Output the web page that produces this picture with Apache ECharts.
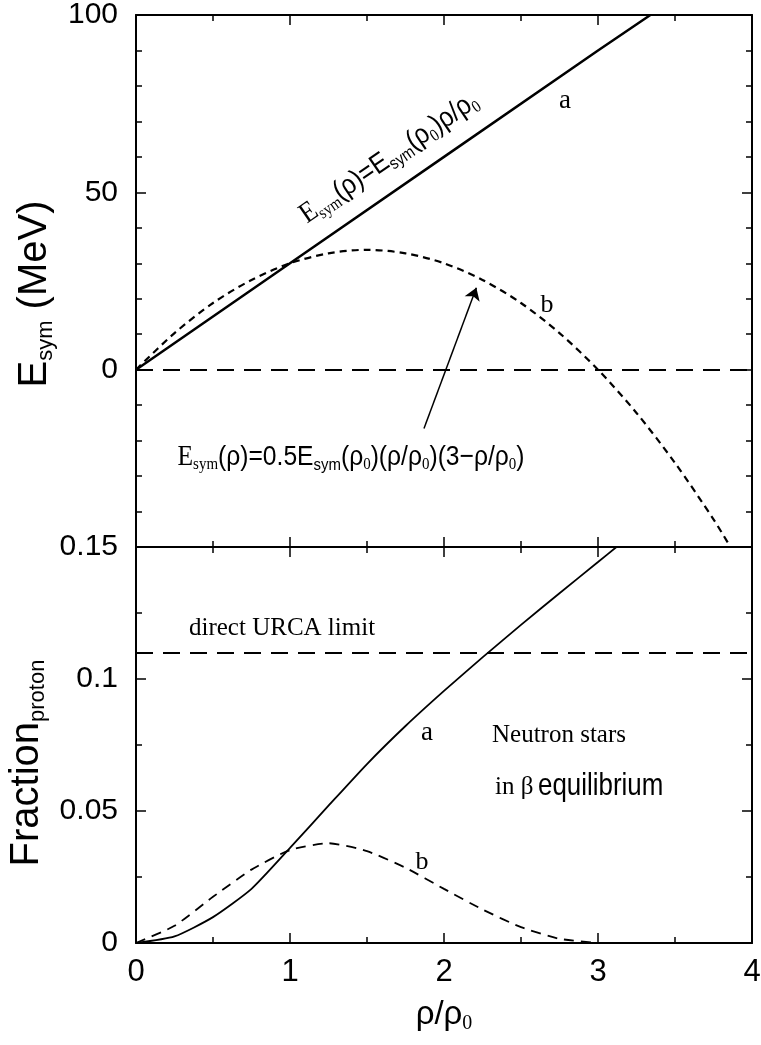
<!DOCTYPE html>
<html>
<head>
<meta charset="utf-8">
<script src="https://cdn.jsdelivr.net/npm/echarts@6/dist/echarts.min.js"></script>
<style>
html, body { margin: 0; padding: 0; background: #fff; }
#main { width: 761px; height: 1045px; }
</style>
</head>
<body>
<div id="main"></div>
<script>
var SANS = '"Liberation Sans", Arial, Helvetica, sans-serif';
var SERIF = '"Liberation Serif", "Times New Roman", serif';

// upper panel: E_sym (MeV) against rho/rho0
var rhoA = [0, 1, 2, 3, 3.34];
var esymA = [0, 30, 60, 90, 100];
var rhoB = [0, 0.25, 0.5, 0.75, 1, 1.25, 1.5, 1.75, 2, 2.25, 2.5, 2.75, 3, 3.25, 3.5, 3.75, 3.86];
var esymB = [0, 10.3, 18.8, 25.3, 30, 32.8, 33.8, 32.8, 30, 25.3, 18.8, 10.3, 0, -12.2, -26.3, -42.2, -50];
var esymZero = 0;

// lower panel: proton fraction against rho/rho0
var rhoFracA = [0, 0.25, 0.5, 0.75, 1, 1.25, 1.5, 1.75, 2, 2.25, 2.5, 2.75, 3, 3.12];
var fracA = [0, 0.0025, 0.0098, 0.0205, 0.036, 0.052, 0.0678, 0.0822, 0.0955, 0.1082, 0.1205, 0.1325, 0.1443, 0.150];
var rhoFracB = [0, 0.25, 0.5, 0.75, 1, 1.25, 1.5, 1.75, 2, 2.25, 2.5, 2.75, 3];
var fracB = [0, 0.0065, 0.0175, 0.0278, 0.0352, 0.0378, 0.0348, 0.0285, 0.0205, 0.0127, 0.006, 0.0016, 0];
var urcaLimit = 0.11;

// arrow from the lower formula to curve b (data coords)
var arrowFrom = [1.87, -16.6];
var arrowTo = [2.21, 23.1];

function zip(xs, ys) {
    var out = [];
    for (var i = 0; i < xs.length; i++) out.push([xs[i], ys[i]]);
    return out;
}

var black = '#000';

function frameAxis(o) {
    var base = {
        type: 'value',
        axisLine: { onZero: false, lineStyle: { color: black, width: 2 } },
        axisTick: { inside: true, length: 10, lineStyle: { color: black, width: 1.5 } },
        minorTick: { show: true, length: 6, lineStyle: { color: black, width: 1.5 } },
        axisLabel: { show: false },
        splitLine: { show: false }
    };
    for (var k in o) base[k] = o[k];
    return base;
}

function minor(n) {
    return { show: true, splitNumber: n, length: 6, lineStyle: { color: black, width: 1.5 } };
}

var tickLabel = { show: true, color: black, fontFamily: SANS, fontSize: 30, margin: 18 };

var formulaRich = {
    se: { fontFamily: SERIF, fontSize: 29, color: black },
    ss: { fontFamily: SERIF, fontSize: 17, color: black, padding: [16, 0, 0, 0] },
    s: { fontFamily: SANS, fontSize: 28, color: black },
    ns: { fontFamily: SANS, fontSize: 17, color: black, padding: [16, 0, 0, 0] },
    z: { fontFamily: SERIF, fontSize: 17, color: black, padding: [16, 0, 0, 0] }
};

var chart = echarts.init(document.getElementById('main'));

var option = {
    animation: false,
    backgroundColor: '#fff',
    grid: [
        { left: 136, top: 15, width: 616, height: 532, outerBoundsMode: 'none' },
        { left: 136, top: 547, width: 616, height: 396, outerBoundsMode: 'none' }
    ],
    xAxis: [
        frameAxis({ gridIndex: 0, position: 'bottom', min: 0, max: 4, interval: 1, minorTick: minor(2) }),
        frameAxis({ gridIndex: 0, position: 'top', min: 0, max: 4, interval: 1, minorTick: minor(2) }),
        frameAxis({
            gridIndex: 1, position: 'bottom', min: 0, max: 4, interval: 1, minorTick: minor(2),
            axisLabel: { show: true, color: black, fontFamily: SANS, fontSize: 31, margin: 14 },
            name: '{m|ρ/ρ}{z|0}',
            nameLocation: 'middle',
            nameGap: 53,
            nameTextStyle: {
                rich: {
                    m: { fontFamily: SANS, fontSize: 33, color: black },
                    z: { fontFamily: SERIF, fontSize: 20, color: black, padding: [18, 0, 0, 0] }
                }
            }
        }),
        frameAxis({ gridIndex: 1, position: 'top', min: 0, max: 4, interval: 1, minorTick: minor(2) })
    ],
    yAxis: [
        frameAxis({
            gridIndex: 0, position: 'left', min: -50, max: 100, interval: 50, minorTick: minor(5),
            axisLabel: {
                show: true, color: black, fontFamily: SANS, fontSize: 30, margin: 18,
                formatter: function (v) { return v === -50 ? '' : String(v); }
            },
            name: '{m|E}{sub|sym}{m| (MeV)}',
            nameLocation: 'middle',
            nameGap: 58,
            nameTextStyle: {
                padding: [0, 26, 0, 0],
                rich: {
                    m: { fontFamily: SANS, fontSize: 40, color: black },
                    sub: { fontFamily: SANS, fontSize: 22, color: black, padding: [22, 0, 0, 0] }
                }
            }
        }),
        frameAxis({ gridIndex: 0, position: 'right', min: -50, max: 100, interval: 50, minorTick: minor(5) }),
        frameAxis({
            gridIndex: 1, position: 'left', min: 0, max: 0.15, interval: 0.05, minorTick: minor(2),
            axisLabel: tickLabel,
            name: '{m|Fraction}{sub|proton}',
            nameLocation: 'middle',
            nameGap: 74,
            nameTextStyle: {
                padding: [0, 36, 0, 0],
                rich: {
                    m: { fontFamily: SANS, fontSize: 40, color: black },
                    sub: { fontFamily: SANS, fontSize: 22, color: black, padding: [22, 0, 0, 0] }
                }
            }
        }),
        frameAxis({ gridIndex: 1, position: 'right', min: 0, max: 0.15, interval: 0.05, minorTick: minor(2) })
    ],
    series: [
        {
            name: 'a', type: 'line', xAxisIndex: 0, yAxisIndex: 0,
            data: zip(rhoA, esymA), symbol: 'none',
            lineStyle: { color: black, width: 2.5 },
            markLine: {
                silent: true, symbol: 'none', label: { show: false },
                lineStyle: { color: black, width: 2, type: [17, 10] },
                data: [{ yAxis: esymZero }]
            }
        },
        {
            name: 'b', type: 'line', xAxisIndex: 0, yAxisIndex: 0,
            data: zip(rhoB, esymB), symbol: 'none', smooth: 0.3,
            lineStyle: { color: black, width: 2.2, type: [7, 5] },
            markLine: {
                silent: true, symbol: ['none', 'arrow'], symbolSize: 12,
                label: { show: false },
                lineStyle: { color: black, width: 1.5, type: 'solid' },
                data: [[{ coord: arrowFrom }, { coord: arrowTo }]]
            }
        },
        {
            name: 'a', type: 'line', xAxisIndex: 2, yAxisIndex: 2,
            data: zip(rhoFracA, fracA), symbol: 'none', smooth: 0.2,
            lineStyle: { color: black, width: 1.8 },
            markLine: {
                silent: true, symbol: 'none', label: { show: false },
                lineStyle: { color: black, width: 2, type: [17, 10] },
                data: [{ yAxis: urcaLimit }]
            }
        },
        {
            name: 'b', type: 'line', xAxisIndex: 2, yAxisIndex: 2,
            data: zip(rhoFracB, fracB), symbol: 'none', smooth: 0.2,
            lineStyle: { color: black, width: 1.8, type: [10, 7] }
        }
    ],
    graphic: [
        {
            type: 'text', x: 389, y: 158, rotation: 0.604, scaleX: 0.88,
            style: {
                text: '{se|E}{ss|sym}{s|(ρ)=E}{ns|sym}{s|(ρ}{z|0}{s|)ρ/ρ}{z|0}',
                rich: formulaRich, align: 'center', verticalAlign: 'middle'
            }
        },
        {
            type: 'text', x: 351, y: 457, scaleX: 0.88,
            style: {
                text: '{se|E}{ss|sym}{s|(ρ)=0.5E}{ns|sym}{s|(ρ}{z|0}{s|)(ρ/ρ}{z|0}{s|)(3−ρ/ρ}{z|0}{s|)}',
                rich: formulaRich, align: 'center', verticalAlign: 'middle'
            }
        },
        { type: 'text', x: 565, y: 101, style: { text: 'a', font: '27px ' + SERIF, fill: black, align: 'center', verticalAlign: 'middle' } },
        { type: 'text', x: 547, y: 305, style: { text: 'b', font: '26px ' + SERIF, fill: black, align: 'center', verticalAlign: 'middle' } },
        { type: 'text', x: 189, y: 628, style: { text: 'direct URCA limit', font: '25px ' + SERIF, fill: black, align: 'left', verticalAlign: 'middle' } },
        { type: 'text', x: 427, y: 733, style: { text: 'a', font: '27px ' + SERIF, fill: black, align: 'center', verticalAlign: 'middle' } },
        { type: 'text', x: 492, y: 735, style: { text: 'Neutron stars', font: '25px ' + SERIF, fill: black, align: 'left', verticalAlign: 'middle' } },
        { type: 'text', x: 495, y: 787, style: { text: 'in β', font: '25px ' + SERIF, fill: black, align: 'left', verticalAlign: 'middle' } },
        { type: 'text', x: 538, y: 786, scaleX: 0.81, style: { text: 'equilibrium', font: '32px ' + SANS, fill: black, align: 'left', verticalAlign: 'middle' } },
        { type: 'text', x: 422, y: 862, style: { text: 'b', font: '26px ' + SERIF, fill: black, align: 'center', verticalAlign: 'middle' } }
    ]
};

chart.setOption(option);
</script>
</body>
</html>
